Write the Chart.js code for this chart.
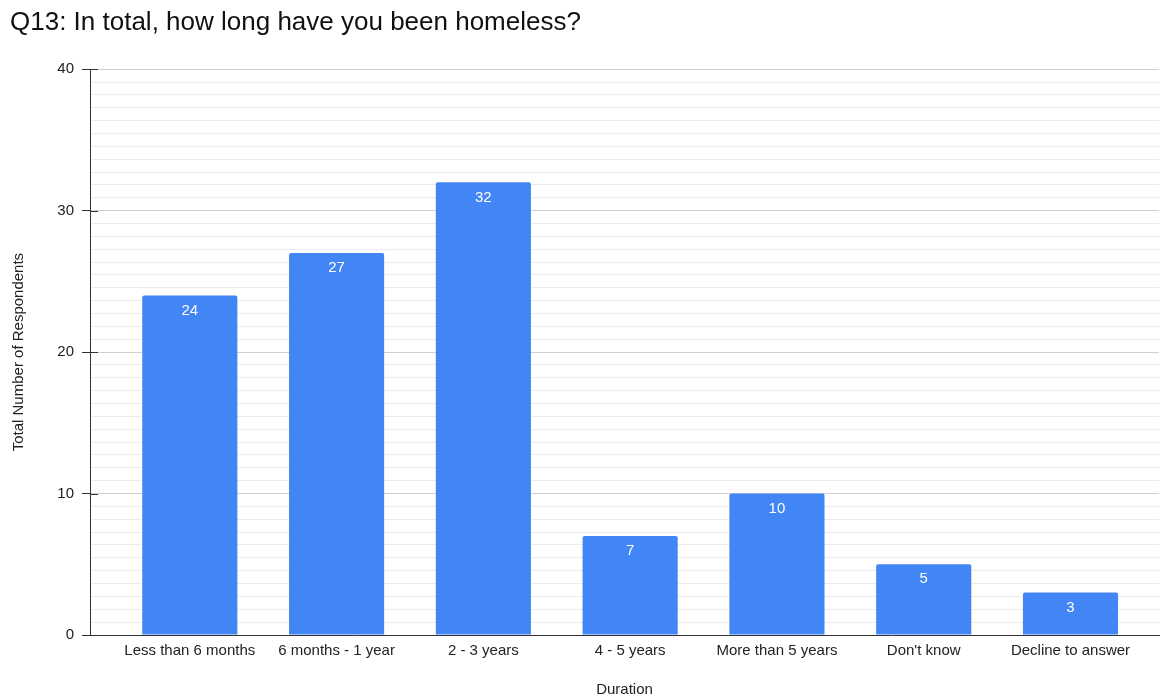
<!DOCTYPE html>
<html>
<head>
<meta charset="utf-8">
<script src="https://cdn.jsdelivr.net/npm/chart.js@4"></script>
<style>
    html, body { margin: 0; padding: 0; background: #fff; }
    #wrap { width: 1161px; height: 696px; }
</style>
</head>
<body>
<div id="wrap"><canvas id="barChart" width="1161" height="696"></canvas></div>
<script>
const categories = ["Less than 6 months", "6 months - 1 year", "2 - 3 years", "4 - 5 years",
    "More than 5 years", "Don't know", "Decline to answer"];
const respondents = [24, 27, 32, 7, 10, 5, 3];
const yTicks = [0, 10, 20, 30, 40];

const FONT = "'Liberation Sans', Arial, sans-serif";

// white value text just inside the top of each bar
const barValues = {
    id: "barValues",
    afterDatasetsDraw(chart) {
        const ctx = chart.ctx;
        const meta = chart.getDatasetMeta(0);
        ctx.save();
        ctx.fillStyle = "#ffffff";
        ctx.font = "15px " + FONT;
        ctx.textAlign = "center";
        ctx.textBaseline = "middle";
        meta.data.forEach((bar, i) => {
            ctx.fillText(respondents[i], bar.x, bar.y + 15);
        });
        ctx.restore();
    }
};

// the major y ticks cross the axis line a little
const tickCross = {
    id: "tickCross",
    afterDraw(chart) {
        const ctx = chart.ctx;
        const y = chart.scales.y;
        const left = chart.chartArea.left;
        ctx.save();
        ctx.strokeStyle = "#333";
        ctx.lineWidth = 1;
        yTicks.forEach(v => {
            const py = Math.round(y.getPixelForValue(v)) + 0.5;
            ctx.beginPath();
            ctx.moveTo(left, py);
            ctx.lineTo(left + 8, py);
            ctx.stroke();
        });
        ctx.restore();
    }
};

(function () {
    const ctx = document.getElementById("barChart");

    const data = {
        datasets: [
            {
                label: "Total Number of Respondents",
                data: respondents.map((v, i) => ({ x: i, y: v })),
                yAxisID: "y",
                backgroundColor: "#4285f4",
                borderRadius: { topLeft: 2, topRight: 2 },
                borderSkipped: "bottom",
                barPercentage: 0.648,
                categoryPercentage: 1,
            },
        ],
    };

    const config = {
        type: "bar",
        data: data,
        options: {
            responsive: false,
            animation: false,
            layout: { padding: { left: 10, right: 2, top: 0, bottom: -3 } },
            plugins: {
                legend: { display: false },
                tooltip: { enabled: false },
                title: {
                    display: true,
                    text: "Q13: In total, how long have you been homeless?",
                    align: "start",
                    color: "#111",
                    font: { family: FONT, size: 26, weight: "normal" },
                    padding: { top: 7, bottom: 31 },
                },
            },
            scales: {
                x: {
                    type: "linear",
                    offset: false,
                    min: -0.68,
                    max: 6.603,
                    grid: { display: false, drawTicks: false, offset: false },
                    border: { display: true, color: "#333", width: 1 },
                    ticks: {
                        stepSize: 1,
                        includeBounds: false,
                        autoSkip: false,
                        maxRotation: 0,
                        padding: 7,
                        color: "#222",
                        font: { family: FONT, size: 15 },
                        callback: v => (Number.isInteger(v) ? categories[v] : ""),
                    },
                    title: {
                        display: true,
                        text: "Duration",
                        color: "#222",
                        font: { family: FONT, size: 15 },
                        padding: { top: 14, bottom: 0 },
                    },
                },
                yMinor: {
                    position: "left",
                    min: 0,
                    max: 44,
                    ticks: { display: false, stepSize: 1 },
                    grid: { color: "#ececec", drawTicks: false },
                    border: { display: false },
                    afterFit: s => { s.width = 0; },
                },
                y: {
                    position: "left",
                    min: 0,
                    max: 40,
                    grid: { color: "#d0d0d0", tickColor: "#333", tickLength: 8 },
                    border: { display: true, color: "#333", width: 1 },
                    ticks: {
                        stepSize: 10,
                        padding: 8,
                        color: "#222",
                        font: { family: FONT, size: 15 },
                    },
                    title: {
                        display: true,
                        text: "Total Number of Respondents",
                        color: "#222",
                        font: { family: FONT, size: 15 },
                        padding: { top: 0, bottom: 0 },
                    },
                    afterFit: s => { s.width = 80; },
                },
            },
        },
        plugins: [barValues, tickCross],
    };

    const barChart = new Chart(ctx, config);
})();
</script>
</body>
</html>
